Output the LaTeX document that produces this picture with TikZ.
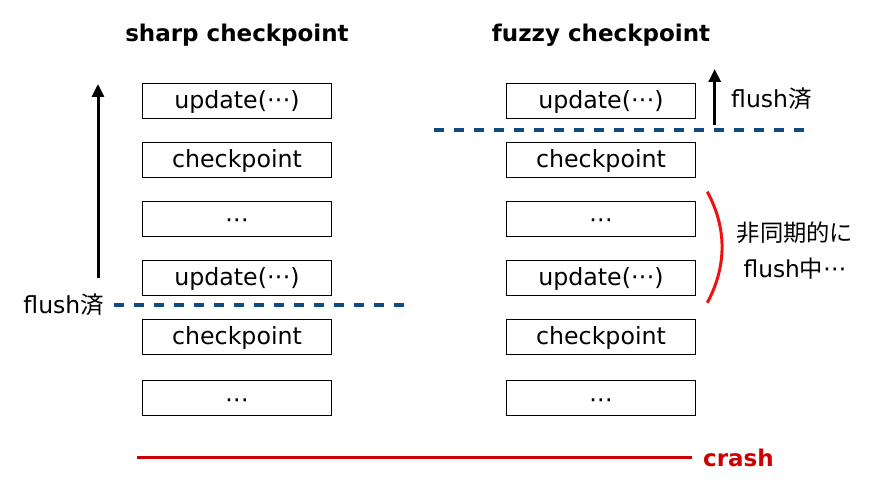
\documentclass[tikz,border=0pt]{standalone}
\usepackage{fontspec}
\setmainfont{DejaVu Sans}
\newfontfamily\jp{Noto Sans CJK JP}
\usetikzlibrary{arrows.meta}
\definecolor{dashblue}{RGB}{16,75,130}
\definecolor{crashred}{HTML}{CC0000}
\definecolor{arcred}{HTML}{F01010}
\newcommand\el{\makebox[0.33em]{·}\makebox[0.33em]{·}\makebox[0.33em]{·}}
\tikzset{
  logbox/.style={draw=black, line width=1.4pt, minimum width=189pt, minimum height=35pt,
    inner sep=2pt, text height=19pt, text depth=3.2pt,
    font=\fontsize{23.7}{28}\selectfont},
  title/.style={font=\fontsize{23}{28}\selectfont\bfseries},
  lbl/.style={font=\fontsize{23.5}{28}\selectfont, inner sep=0pt},
  flushline/.style={draw=dashblue, line width=4.3pt, dash pattern=on 10pt off 10pt},
  uparrow/.style={line width=3pt, -{Triangle[width=12pt,length=13pt]}},
}
\begin{document}
\begin{tikzpicture}[x=1pt,y=-1pt]
\useasboundingbox (0,0) rectangle (887,495);
% titles
\node[title] (tl) at (237,35) {sharp checkpoint};
\node[title] (tr) at (601,35) {fuzzy checkpoint};
% left column
\node[logbox] (l1) at (237,100.8) {update(\el)};
\node[logbox] (l2) at (237,159.8) {checkpoint};
\node[logbox] (l3) at (237,218.8) {\raisebox{-2pt}{\el}};
\node[logbox] (l4) at (237,277.8) {update(\el)};
\node[logbox] (l5) at (237,336.8) {checkpoint};
\node[logbox] (l6) at (237,398.2) {\raisebox{-2pt}{\el}};
% right column
\node[logbox] (r1) at (601,100.8) {update(\el)};
\node[logbox] (r2) at (601,159.8) {checkpoint};
\node[logbox] (r3) at (601,218.8) {\raisebox{-2pt}{\el}};
\node[logbox] (r4) at (601,277.8) {update(\el)};
\node[logbox] (r5) at (601,336.8) {checkpoint};
\node[logbox] (r6) at (601,398.2) {\raisebox{-2pt}{\el}};
% left flush marker
\coordinate (la0) at (98,278);
\coordinate (la1) at (98,84);
\draw[uparrow] (la0) -- (la1);
\node[lbl, anchor=east] (lf) at (104,305) {flush{\jp 済}};
\coordinate (ld0) at (114,305);
\coordinate (ld1) at (404,305);
\draw[flushline] (ld0) -- (ld1);
% right flush marker
\coordinate (ra0) at (714.7,124.5);
\coordinate (ra1) at (714.7,69);
\draw[uparrow] (ra0) -- (ra1);
\node[lbl, anchor=west] (rf) at (731,98.5) {flush{\jp 済}};
\coordinate (rd0) at (434,130.3);
\coordinate (rd1) at (806,130.3);
\draw[flushline] (rd0) -- (rd1);
% async arc
\coordinate (a0) at (707.3,191.7);
\coordinate (a1) at (707.3,302.7);
\draw[arcred, line width=3pt] (a0) .. controls (727,228) and (727,266) .. (a1);
\node[lbl, align=center, font=\fontsize{23.3}{35.6}\selectfont] (async) at (795,250.5)
  {{\jp 非同期的に}\\flush{\jp 中}\el};
% crash
\coordinate (c0) at (137,457.5);
\coordinate (c1) at (692,457.5);
\draw[crashred, line width=3.5pt] (c0) -- (c1);
\node[lbl, anchor=west, text=crashred, font=\fontsize{23}{28}\selectfont\bfseries] (crash) at (703,458) {crash};
\end{tikzpicture}
\end{document}
